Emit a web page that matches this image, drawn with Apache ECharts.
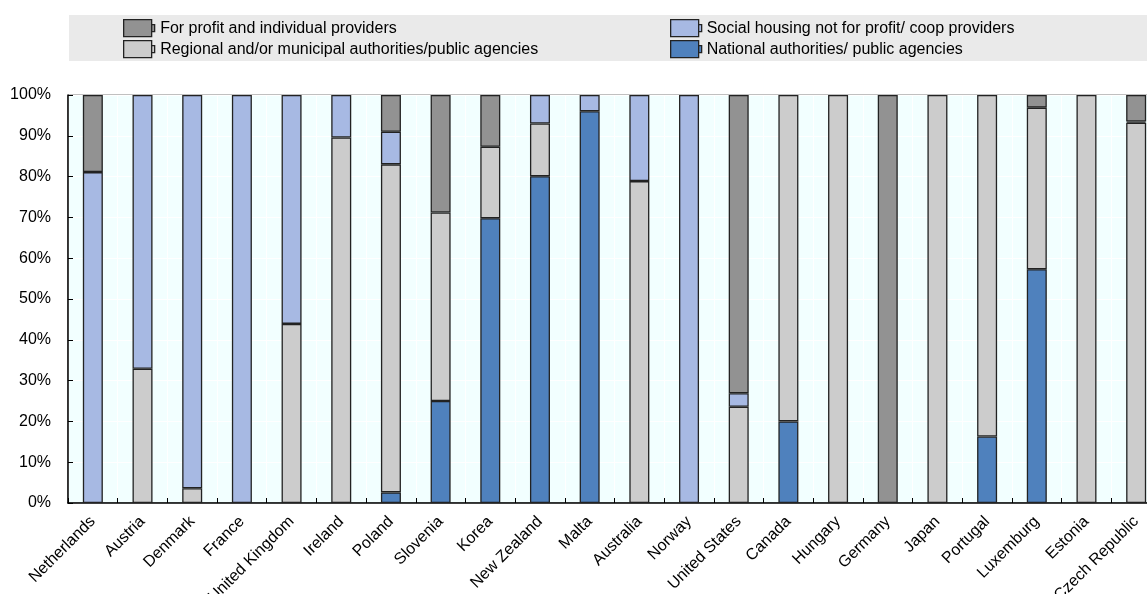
<!DOCTYPE html>
<html>
<head>
<meta charset="utf-8">
<script src="https://cdn.jsdelivr.net/npm/echarts@6/dist/echarts.min.js"></script>
<style>
html,body{margin:0;padding:0;background:#fff;}
#c{width:1147px;height:594px;}
</style>
</head>
<body>
<div id="c"></div>
<script>
var categories = ['Netherlands','Austria','Denmark','France','United Kingdom','Ireland','Poland','Slovenia','Korea','New Zealand','Malta','Australia','Norway','United States','Canada','Hungary','Germany','Japan','Portugal','Luxemburg','Estonia','Czech Republic'];
var national  = [0,0,0,0,0,0,2.6,25,69.8,80.1,96,0,0,0,20,0,0,0,16.3,57.3,0,0];
var regional  = [0,32.9,3.6,0,43.9,89.6,80.4,46.2,17.5,12.9,0,78.9,0,23.6,80,100,0,100,83.7,39.6,100,93.2];
var social    = [81.1,67.1,96.4,100,56.1,10.4,8,0,0,7,4,21.1,100,3.3,0,0,0,0,0,0,0,0.3];
var forprofit = [18.9,0,0,0,0,0,9,28.8,12.7,0,0,0,0,73.1,0,0,100,0,0,3.1,0,6.5];
var yTicks = [0,10,20,30,40,50,60,70,80,90,100];

var names = {
  nat: 'National authorities/ public agencies',
  reg: 'Regional and/or municipal authorities/public agencies',
  soc: 'Social housing not for profit/ coop providers',
  fp: 'For profit and individual providers'
};
var colors = {nat:'#4F81BD', reg:'#CCCCCC', soc:'#A7B9E3', fp:'#929292'};
function clean(arr){ return arr.map(function(v){ return v === 0 ? '-' : v; }); }
function mkSeries(key, data){
  return {
    name: names[key], type: 'bar', stack: 'total', barWidth: 20,
    data: clean(data),
    itemStyle: {color: colors[key], borderColor: '#222', borderWidth: 1.3},
    emphasis: {disabled: true}
  };
}
var icon = 'path://M0,0H28V17H0Z M28,5H31V12H28Z';
function mkLegend(name, left, top, w){
  return {
    data: [name], left: left, top: top, itemWidth: w, itemHeight: 17,
    icon: icon, selectedMode: false, padding: 0,
    textStyle: {fontFamily: 'Liberation Sans, Arial, sans-serif', fontSize: 16, color: '#000'},
    itemStyle: {borderColor: '#222', borderWidth: 1.3}
  };
}
var chart = echarts.init(document.getElementById('c'), null, {renderer: 'canvas'});
chart.setOption({
  animation: false,
  backgroundColor: '#fff',
  graphic: [{type: 'rect', shape: {x: 69, y: 15, width: 1078, height: 46}, style: {fill: '#EAEAEA'}, z: -10}],
  legend: [
    mkLegend(names.fp, 123, 19, 32),
    mkLegend(names.reg, 123, 40, 32),
    mkLegend(names.soc, 670, 19, 31),
    mkLegend(names.nat, 670, 40, 31)
  ],
  grid: {left: 68, top: 95, width: 1093, height: 408, containLabel: false, outerBoundsMode: 'none',
    show: true, backgroundColor: '#F2FFFF', borderColor: '#808080', borderWidth: 1},
  xAxis: {
    type: 'category', data: categories,
    axisLine: {lineStyle: {color: '#000', width: 1.5}},
    axisTick: {show: true, inside: true, length: 5, lineStyle: {color: '#000'}},
    axisLabel: {rotate: 45, margin: 16, interval: 0, fontFamily: 'Liberation Sans, Arial, sans-serif', fontSize: 16, color: '#000'},
    splitLine: {show: true, lineStyle: {color: '#fff', width: 1}}
  },
  yAxis: {
    type: 'value', min: 0, max: 100, interval: 10,
    axisLine: {show: true, lineStyle: {color: '#000', width: 1.5}},
    axisTick: {show: true, inside: true, length: 5, lineStyle: {color: '#000'}},
    axisLabel: {margin: 17, fontFamily: 'Liberation Sans, Arial, sans-serif', fontSize: 16, color: '#000',
      formatter: function(v){ return yTicks.indexOf(v) >= 0 ? v + '%' : ''; }},
    splitLine: {show: true, lineStyle: {color: '#fff', width: 1}}
  },
  series: [
    mkSeries('nat', national),
    mkSeries('reg', regional),
    mkSeries('soc', social),
    mkSeries('fp', forprofit)
  ]
});
</script>
</body>
</html>
